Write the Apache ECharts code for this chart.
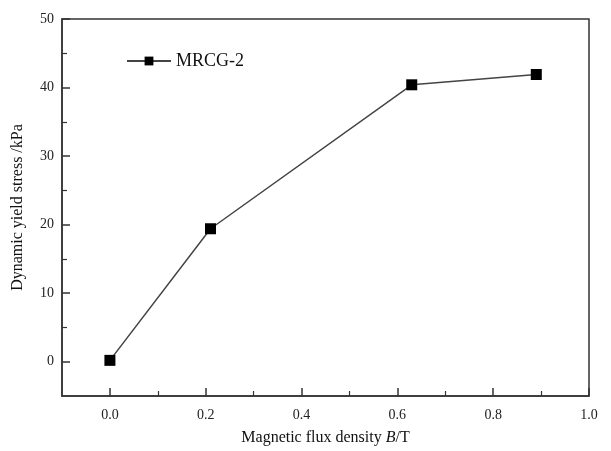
<!DOCTYPE html>
<html>
<head>
<meta charset="utf-8">
<script src="https://cdn.jsdelivr.net/npm/echarts@6/dist/echarts.min.js"></script>
<style>html,body{margin:0;padding:0;background:#fff}#c{width:611px;height:451px}</style>
</head>
<body>
<div id="c"></div>
<script>
const seriesName = 'MRCG-2';
const fluxDensity = [0.0, 0.21, 0.63, 0.89];
const yieldStress = [0.2, 19.4, 40.4, 41.9];
const xMajorTicks = [0.0, 0.2, 0.4, 0.6, 0.8, 1.0];
const xMinorTicks = [0.1, 0.3, 0.5, 0.7, 0.9];
const yMajorTicks = [0, 10, 20, 30, 40, 50];
const yMinorTicks = [5, 15, 25, 35, 45];

const FONT = 'Liberation Serif';
const AX = '#333';
const chart = echarts.init(document.getElementById('c'), null, {renderer: 'canvas'});
const baseX = {
  type: 'value', min: -0.1, max: 1.0, interval: 0.1, position: 'bottom',
  splitLine: {show: false}
};
const baseY = {
  type: 'value', min: -5, max: 50, interval: 5, position: 'left',
  splitLine: {show: false}
};
chart.setOption({
  animation: false,
  grid: {left: 62, top: 19, right: 22, bottom: 53, show: true, borderColor: AX, borderWidth: 1.5, backgroundColor: 'transparent'},
  legend: {
    show: true, left: 121, top: 47, itemWidth: 44, itemHeight: 11, itemGap: 3,
    textStyle: {fontFamily: FONT, fontSize: 18, color: '#111'},
    data: [seriesName]
  },
  xAxis: [
    Object.assign({}, baseX, {
      name: '{n|Magnetic flux density }{i|B}{n|/T}', nameLocation: 'middle', nameGap: 34,
      nameTextStyle: {rich: {n: {fontFamily: FONT, fontSize: 16, color: '#111'}, i: {fontFamily: FONT, fontSize: 16, fontStyle: 'italic', color: '#111'}}},
      axisLine: {show: true, onZero: false, lineStyle: {color: AX, width: 1.5}},
      axisTick: {show: true, inside: true, length: 8, lineStyle: {color: AX, width: 1.5}, customValues: xMajorTicks},
      axisLabel: {show: true, margin: 12, fontFamily: FONT, fontSize: 14, color: '#222', customValues: xMajorTicks, formatter: v => v.toFixed(1)}
    }),
    Object.assign({}, baseX, {
      axisLine: {show: false, onZero: false},
      axisTick: {show: true, inside: true, length: 5, lineStyle: {color: AX, width: 1.2}, customValues: xMinorTicks},
      axisLabel: {show: false}
    })
  ],
  yAxis: [
    Object.assign({}, baseY, {
      name: 'Dynamic yield stress /kPa', nameLocation: 'middle', nameGap: 36, nameRotate: 90,
      nameTextStyle: {fontFamily: FONT, fontSize: 16, color: '#111'},
      axisLine: {show: true, onZero: false, lineStyle: {color: AX, width: 1.5}},
      axisTick: {show: true, inside: true, length: 8, lineStyle: {color: AX, width: 1.5}, customValues: yMajorTicks},
      axisLabel: {show: true, margin: 8, fontFamily: FONT, fontSize: 14, color: '#222', customValues: yMajorTicks, formatter: v => String(v)}
    }),
    Object.assign({}, baseY, {
      axisLine: {show: false, onZero: false},
      axisTick: {show: true, inside: true, length: 5, lineStyle: {color: AX, width: 1.2}, customValues: yMinorTicks},
      axisLabel: {show: false}
    })
  ],
  series: [{
    name: seriesName, type: 'line', xAxisIndex: 0, yAxisIndex: 0,
    data: fluxDensity.map((x, i) => [x, yieldStress[i]]),
    symbol: 'rect', symbolSize: 11,
    itemStyle: {color: '#000'},
    lineStyle: {color: '#444', width: 1.5},
    z: 3
  }]
});
</script>
</body>
</html>
